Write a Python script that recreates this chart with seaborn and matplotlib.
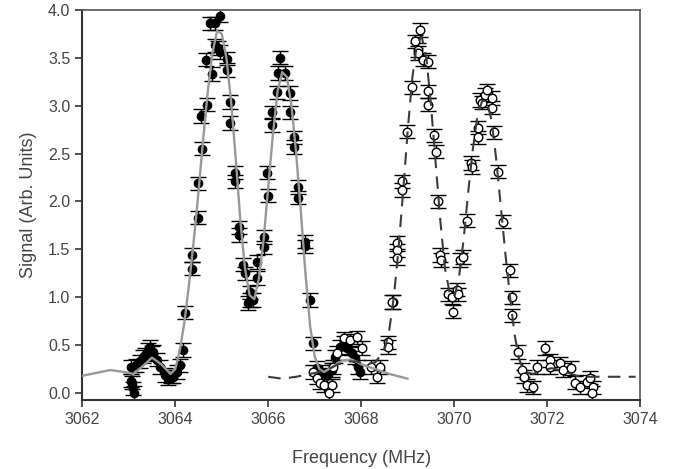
import matplotlib
matplotlib.use("Agg")
import matplotlib.pyplot as plt
import seaborn as sns
import numpy as np
import pandas as pd

# --- filled circles (first doublet) : frequency (MHz), signal
filled_freq = [3063.05, 3063.08, 3063.10, 3063.12, 3063.05, 3063.15, 3063.25, 3063.30,
               3063.35, 3063.42, 3063.46, 3063.50, 3063.53, 3063.60, 3063.68, 3063.78,
               3063.85, 3063.90, 3063.96, 3064.04, 3064.10, 3064.17, 3064.22, 3064.36,
               3064.36, 3064.48, 3064.48, 3064.58, 3064.56, 3064.69, 3064.67, 3064.80,
               3064.75, 3064.86, 3064.97, 3064.86, 3064.93, 3064.97, 3065.11, 3065.11,
               3065.18, 3065.18, 3065.29, 3065.29, 3065.38, 3065.38, 3065.46, 3065.50,
               3065.60, 3065.60, 3065.56, 3065.68, 3065.76, 3065.76, 3065.90, 3065.90,
               3065.98, 3066.00, 3066.09, 3066.09, 3066.19, 3066.22, 3066.26, 3066.36,
               3066.47, 3066.47, 3066.55, 3066.55, 3066.65, 3066.65, 3066.80, 3066.80,
               3066.90, 3066.97, 3067.05, 3067.15, 3067.26, 3067.37, 3067.44, 3067.55,
               3067.62, 3067.70, 3067.80, 3067.87, 3067.94, 3067.98]
filled_sig = [0.27, 0.11, 0.05, 0.00, 0.13, 0.29, 0.33, 0.38,
              0.40, 0.45, 0.48, 0.42, 0.43, 0.35, 0.27, 0.19,
              0.15, 0.17, 0.17, 0.22, 0.29, 0.45, 0.84, 1.44,
              1.30, 1.83, 2.19, 2.55, 2.89, 3.01, 3.48, 3.33,
              3.86, 3.86, 3.94, 3.63, 3.60, 3.56, 3.49, 3.37,
              3.04, 2.82, 2.30, 2.21, 1.73, 1.65, 1.34, 1.25,
              1.05, 0.97, 0.94, 0.97, 1.37, 1.20, 1.63, 1.52,
              2.30, 2.06, 2.93, 2.80, 3.14, 3.34, 3.50, 3.34,
              3.13, 2.93, 2.67, 2.57, 2.15, 2.04, 1.58, 1.53,
              0.97, 0.52, 0.26, 0.22, 0.19, 0.24, 0.38, 0.48,
              0.53, 0.47, 0.42, 0.37, 0.27, 0.22]

# --- open circles (second doublet)
open_freq = [3066.97, 3067.05, 3067.12, 3067.20, 3067.30, 3067.37, 3067.40, 3067.48,
             3067.62, 3067.76, 3067.90, 3068.02, 3068.20, 3068.34, 3068.41, 3068.58,
             3068.58, 3068.69, 3068.67, 3068.77, 3068.77, 3068.77, 3068.88, 3068.88,
             3068.99, 3069.10, 3069.16, 3069.23, 3069.23, 3069.27, 3069.33, 3069.44,
             3069.44, 3069.44, 3069.57, 3069.60, 3069.66, 3069.70, 3069.72, 3069.87,
             3069.96, 3069.98, 3070.06, 3070.09, 3070.13, 3070.19, 3070.28, 3070.35,
             3070.38, 3070.50, 3070.50, 3070.56, 3070.60, 3070.65, 3070.70, 3070.82,
             3070.82, 3070.86, 3070.95, 3071.05, 3071.20, 3071.25, 3071.25, 3071.38,
             3071.46, 3071.50, 3071.57, 3071.70, 3071.78, 3071.96, 3072.06, 3072.06,
             3072.28, 3072.34, 3072.50, 3072.60, 3072.70, 3072.86, 3072.92, 3072.99,
             3072.97]
open_sig = [0.22, 0.16, 0.11, 0.08, 0.00, 0.08, 0.27, 0.42,
            0.57, 0.55, 0.58, 0.47, 0.27, 0.17, 0.27, 0.53,
            0.48, 0.95, 0.95, 1.57, 1.49, 1.41, 2.21, 2.12,
            2.73, 3.19, 3.67, 3.58, 3.55, 3.79, 3.48, 3.46,
            3.15, 3.01, 2.69, 2.52, 2.00, 1.44, 1.39, 1.03,
            1.00, 0.85, 1.08, 1.03, 1.39, 1.42, 1.80, 2.40,
            2.36, 2.77, 2.67, 3.06, 3.03, 3.11, 3.16, 3.08,
            2.98, 2.72, 2.31, 1.79, 1.28, 1.00, 0.81, 0.43,
            0.24, 0.17, 0.08, 0.06, 0.27, 0.47, 0.34, 0.27,
            0.31, 0.24, 0.26, 0.11, 0.06, 0.12, 0.16, 0.06,
            0.00]

sig_err = 0.07

# --- fitted curves
fit1_freq = [3062.0, 3062.3, 3062.6, 3062.9, 3063.1, 3063.3, 3063.5, 3063.7, 3063.9,
             3064.0, 3064.1, 3064.2, 3064.3, 3064.4, 3064.5, 3064.6, 3064.7, 3064.8,
             3064.9, 3065.0, 3065.1, 3065.2, 3065.3, 3065.4, 3065.5, 3065.6, 3065.7,
             3065.8, 3065.9, 3066.0, 3066.1, 3066.2, 3066.3, 3066.4, 3066.5, 3066.6,
             3066.7, 3066.8, 3066.9, 3067.0, 3067.1, 3067.2, 3067.4, 3067.6, 3067.8,
             3068.0, 3068.3, 3068.6, 3069.0]
fit1_sig = [0.18, 0.21, 0.24, 0.22, 0.20, 0.28, 0.37, 0.30, 0.20,
            0.25, 0.45, 0.75, 1.15, 1.60, 2.10, 2.65, 3.15, 3.55,
            3.78, 3.75, 3.50, 3.05, 2.45, 1.80, 1.30, 1.02, 0.98,
            1.20, 1.60, 2.15, 2.70, 3.15, 3.35, 3.30, 3.00, 2.50,
            1.90, 1.25, 0.70, 0.38, 0.25, 0.22, 0.28, 0.34, 0.35,
            0.30, 0.25, 0.20, 0.15]

fit2_freq = [3066.0, 3066.3, 3066.6, 3066.9, 3067.1, 3067.3, 3067.5, 3067.7, 3067.9,
             3068.1, 3068.3, 3068.5, 3068.6, 3068.7, 3068.8, 3068.9, 3069.0, 3069.1,
             3069.2, 3069.3, 3069.4, 3069.5, 3069.6, 3069.7, 3069.8, 3069.9, 3070.0,
             3070.1, 3070.2, 3070.3, 3070.4, 3070.5, 3070.6, 3070.7, 3070.8, 3070.9,
             3071.0, 3071.1, 3071.2, 3071.3, 3071.4, 3071.5, 3071.7, 3071.9, 3072.1,
             3072.4, 3072.7, 3073.0, 3073.4, 3073.9]
fit2_sig = [0.17, 0.15, 0.17, 0.20, 0.22, 0.25, 0.30, 0.33, 0.33,
            0.30, 0.32, 0.45, 0.65, 1.00, 1.50, 2.10, 2.75, 3.30,
            3.65, 3.72, 3.50, 3.00, 2.40, 1.80, 1.30, 1.05, 1.00,
            1.20, 1.60, 2.10, 2.55, 2.90, 3.05, 3.05, 2.85, 2.45,
            1.95, 1.45, 1.00, 0.60, 0.35, 0.22, 0.20, 0.24, 0.26,
            0.22, 0.17, 0.17, 0.17, 0.17]

filled = pd.DataFrame({"freq": filled_freq, "signal": filled_sig})
opened = pd.DataFrame({"freq": open_freq, "signal": open_sig})
fit1 = pd.DataFrame({"freq": fit1_freq, "signal": fit1_sig})
fit2 = pd.DataFrame({"freq": fit2_freq, "signal": fit2_sig})

sns.set_style("ticks")
plt.rcParams["font.family"] = ["Liberation Sans", "DejaVu Sans"]
text_col = "#444444"

fig = plt.figure(figsize=(6.74, 4.69), dpi=100)
ax = fig.add_axes([0.122, 0.147, 0.828, 0.832])

# error bars
ax.errorbar(filled["freq"], filled["signal"], yerr=sig_err, fmt="none",
            ecolor="black", elinewidth=1.0, capsize=5.5, capthick=1.0, zorder=2)
ax.errorbar(opened["freq"], opened["signal"], yerr=sig_err, fmt="none",
            ecolor="black", elinewidth=1.0, capsize=5.5, capthick=1.0, zorder=2)

# markers
sns.scatterplot(data=filled, x="freq", y="signal", ax=ax, color="black",
                edgecolor="black", s=38, linewidth=0.8, zorder=3)
sns.scatterplot(data=opened, x="freq", y="signal", ax=ax, color="white",
                edgecolor="black", s=38, linewidth=1.0, zorder=3)

# fits
sns.lineplot(data=fit1, x="freq", y="signal", ax=ax, color="#999999",
             linewidth=1.7, sort=False, estimator=None, zorder=4)
sns.lineplot(data=fit2, x="freq", y="signal", ax=ax, color="#3c3c3c",
             linewidth=1.5, linestyle=(0, (6, 4)), sort=False, estimator=None, zorder=4)

ax.set_xlim(3062, 3074)
ax.set_ylim(-0.073, 4.0)
ax.set_xticks(np.arange(3062, 3075, 2))
ax.set_yticks(np.arange(0, 4.01, 0.5))
ax.set_yticklabels([f"{v:.1f}" for v in np.arange(0, 4.01, 0.5)])
ax.tick_params(axis="both", direction="out", length=5, width=1.2,
               labelsize=11.5, labelcolor=text_col, color="#333333")
ax.set_xlabel("Frequency (MHz)", fontsize=13, color=text_col, labelpad=17)
ax.set_ylabel("Signal (Arb. Units)", fontsize=13, color=text_col, labelpad=8)

for side in ["left", "bottom"]:
    ax.spines[side].set_linewidth(1.5)
    ax.spines[side].set_color("#333333")
for side in ["top", "right"]:
    ax.spines[side].set_visible(True)
    ax.spines[side].set_linewidth(1.2)
    ax.spines[side].set_color("#555555")

fig.savefig("out.png", dpi=100)
